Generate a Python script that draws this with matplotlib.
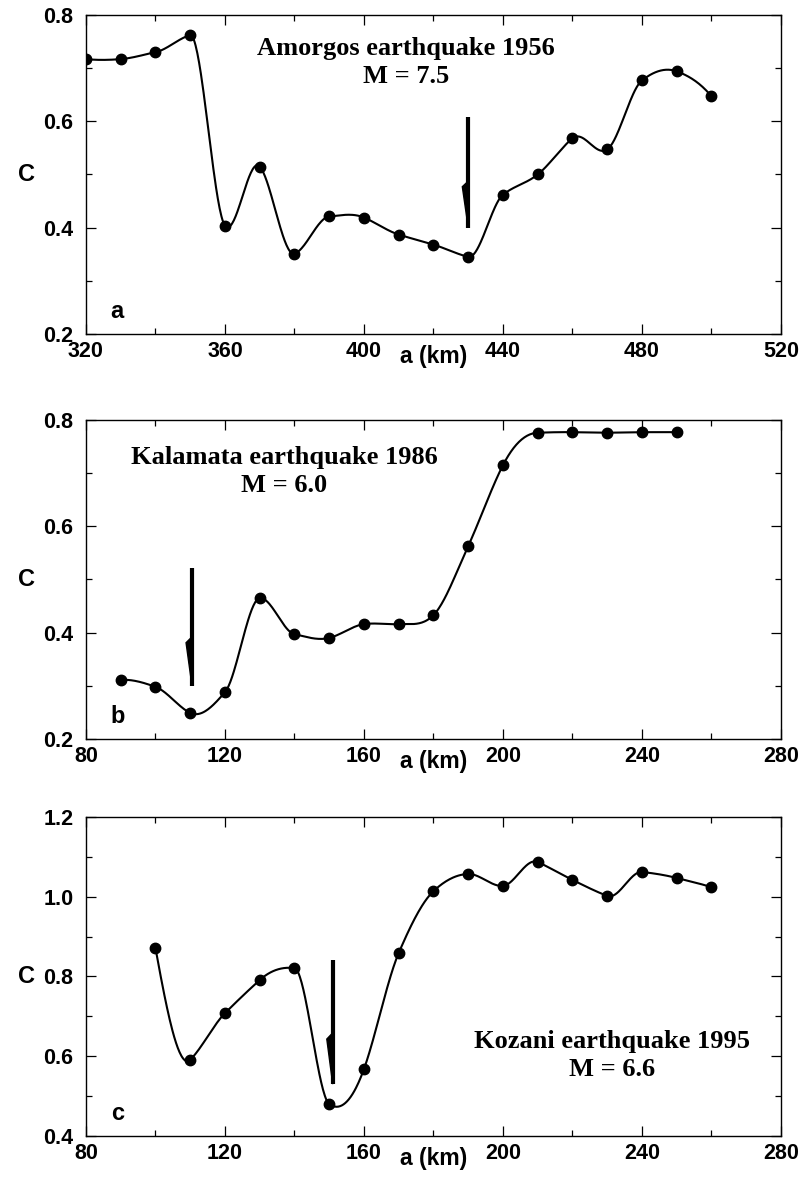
import numpy as np
import matplotlib
matplotlib.use('Agg')
import matplotlib.pyplot as plt
from matplotlib.ticker import MultipleLocator

# data (a = distance in km, C = value)
amorgos_a = [320, 330, 340, 350, 360, 370, 380, 390, 400, 410,
             420, 430, 440, 450, 460, 470, 480, 490, 500]
amorgos_c = [0.717, 0.717, 0.730, 0.762, 0.404, 0.515, 0.351, 0.421, 0.419, 0.387,
             0.368, 0.345, 0.462, 0.500, 0.568, 0.547, 0.677, 0.694, 0.647]

kalamata_a = [90, 100, 110, 120, 130, 140, 150, 160, 170, 180,
              190, 200, 210, 220, 230, 240, 250]
kalamata_c = [0.311, 0.298, 0.249, 0.288, 0.465, 0.397, 0.390, 0.416, 0.416, 0.433,
              0.563, 0.715, 0.776, 0.777, 0.776, 0.777, 0.777]

kozani_a = [100, 110, 120, 130, 140, 150, 160, 170, 180, 190,
            200, 210, 220, 230, 240, 250, 260]
kozani_c = [0.871, 0.591, 0.708, 0.791, 0.821, 0.480, 0.568, 0.859, 1.014, 1.057,
            1.027, 1.087, 1.042, 1.002, 1.062, 1.047, 1.024]

plt.rcParams['font.family'] = ['Liberation Sans', 'DejaVu Sans']
plt.rcParams['font.weight'] = 'bold'


# smooth line through the points (Akima-type Hermite curve)
def smooth_curve(x, y, steps=40):
    x = np.asarray(x, float)
    y = np.asarray(y, float)
    d = np.diff(y) / np.diff(x)
    dm1 = 2 * d[0] - d[1]
    dm2 = 2 * dm1 - d[0]
    dn = 2 * d[-1] - d[-2]
    dn1 = 2 * dn - d[-1]
    m = np.concatenate([[dm2, dm1], d, [dn, dn1]])
    w1 = np.abs(m[3:] - m[2:-1])
    w2 = np.abs(m[1:-2] - m[:-3])
    den = w1 + w2
    t = np.where(den > 0, (w1 * m[1:-2] + w2 * m[2:-1]) / np.where(den > 0, den, 1),
                 0.5 * (m[1:-2] + m[2:-1]))
    xs, ys = [], []
    for i in range(len(x) - 1):
        h = x[i + 1] - x[i]
        s = np.linspace(0, 1, steps)
        h00 = 2 * s**3 - 3 * s**2 + 1
        h10 = s**3 - 2 * s**2 + s
        h01 = -2 * s**3 + 3 * s**2
        h11 = s**3 - s**2
        xs.append(x[i] + s * h)
        ys.append(h00 * y[i] + h10 * h * t[i] + h01 * y[i + 1] + h11 * h * t[i + 1])
    return np.concatenate(xs), np.concatenate(ys)


def draw_arrow(ax, x, y_top, y_tip, x_barb, y_barb):
    ax.plot([x, x], [y_top, y_tip], color='black', lw=3.0, solid_capstyle='butt', zorder=4)
    ax.fill([x_barb, x, x], [y_barb, y_tip, y_barb + (y_top - y_tip) * 0.05],
            color='black', lw=1.0, zorder=4)


panels = [
    dict(a=amorgos_a, c=amorgos_c, xlim=(320, 520), ylim=(0.2, 0.8), yticks=[0.2, 0.4, 0.6, 0.8],
         ymin=0.1, bottom=0.7191, letter='a',
         title=('Amorgos earthquake 1956', 'M = 7.5'), tpos=(412, 0.737, 0.684),
         arrow=(430, 0.609, 0.400, 428.3, 0.477)),
    dict(a=kalamata_a, c=kalamata_c, xlim=(80, 280), ylim=(0.2, 0.8), yticks=[0.2, 0.4, 0.6, 0.8],
         ymin=0.1, bottom=0.3785, letter='b',
         title=('Kalamata earthquake 1986', 'M = 6.0'), tpos=(137, 0.730, 0.676),
         arrow=(110.5, 0.522, 0.300, 108.8, 0.381)),
    dict(a=kozani_a, c=kozani_c, xlim=(80, 280), ylim=(0.4, 1.2), yticks=[0.4, 0.6, 0.8, 1.0, 1.2],
         ymin=0.1, bottom=0.0446, letter='c',
         title=('Kozani earthquake 1995', 'M = 6.6'), tpos=(231.5, 0.636, 0.566),
         arrow=(151, 0.841, 0.530, 149.3, 0.643)),
]

fig = plt.figure(figsize=(8.02, 11.89), dpi=100)

for p in panels:
    ax = fig.add_axes([0.1072, p['bottom'], 0.8666, 0.2683])
    xs, ys = smooth_curve(p['a'], p['c'])
    ax.plot(xs, ys, color='black', lw=1.5, zorder=2)
    ax.plot(p['a'], p['c'], 'o', color='black', markersize=7.5, zorder=3)

    ax.set_xlim(*p['xlim'])
    ax.set_ylim(*p['ylim'])
    ax.xaxis.set_major_locator(MultipleLocator(40))
    ax.xaxis.set_minor_locator(MultipleLocator(20))
    ax.set_yticks(p['yticks'])
    ax.yaxis.set_minor_locator(MultipleLocator(p['ymin']))
    ax.yaxis.set_major_formatter(plt.FuncFormatter(lambda v, pos: f'{v:.1f}'))

    ax.tick_params(which='both', direction='in', top=True, right=True, width=0.9)
    ax.tick_params(which='major', length=7, labelsize=15.5)
    ax.tick_params(which='minor', length=4)
    ax.tick_params(axis='x', which='major', pad=5)
    ax.tick_params(axis='y', which='major', pad=9)
    for lab in ax.get_xticklabels() + ax.get_yticklabels():
        lab.set_fontweight('bold')
    for sp in ax.spines.values():
        sp.set_linewidth(1.0)

    ax.text(-0.085, 0.5, 'C', transform=ax.transAxes, fontsize=17, fontweight='bold',
            ha='center', va='center')
    ax.text(0.5, -0.072, 'a (km)', transform=ax.transAxes, fontsize=16.5, fontweight='bold',
            ha='center', va='center')
    ax.text(0.045, 0.07, p['letter'], transform=ax.transAxes, fontsize=17, fontweight='bold',
            ha='center', va='center')

    tx, ty1, ty2 = p['tpos']
    ax.text(tx, ty1, p['title'][0], fontsize=19, fontweight='bold', family='Liberation Serif',
            ha='center', va='center')
    ax.text(tx, ty2, p['title'][1], fontsize=19, fontweight='bold', family='Liberation Serif',
            ha='center', va='center')

    draw_arrow(ax, *p['arrow'])

fig.savefig('out.png', dpi=100)
